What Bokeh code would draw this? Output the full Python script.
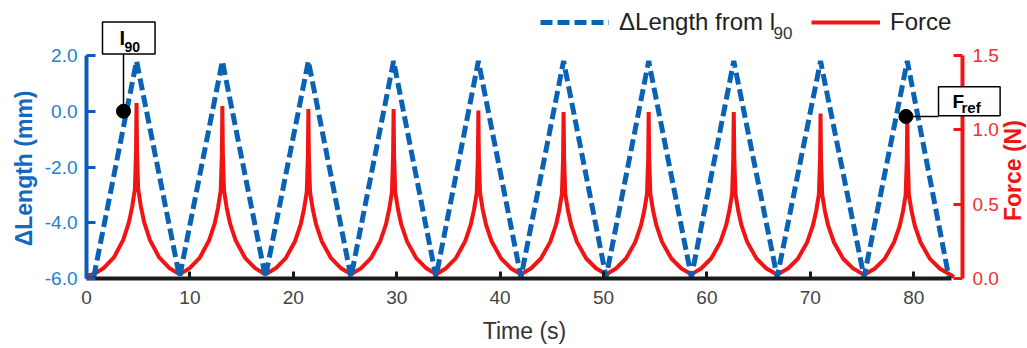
import math
from bokeh.plotting import figure
from bokeh.models import Range1d, LinearAxis, FixedTicker, NumeralTickFormatter, Legend, LegendItem, Label
from bokeh.embed import file_html
from bokeh.resources import INLINE

# ---------------- data ----------------
# Delta length from l90 (mm): triangle wave vertices
length_t = [0.7, 4.84, 9.0, 13.14, 17.3, 21.46, 25.58, 29.70, 33.8, 37.90, 42.02,
            46.14, 50.25, 54.37, 58.5, 62.60, 66.8, 70.99, 75.2, 79.38, 83.4]
length_mm = [-5.95, 1.8, -5.95, 1.8, -5.95, 1.8, -5.95, 1.8, -5.95, 1.8, -5.95,
             1.8, -5.95, 1.8, -5.95, 1.8, -5.95, 1.8, -5.95, 1.8, -5.95]

# Force (N): time of each spike and its peak value
peak_t = [4.84, 13.14, 21.46, 29.70, 37.90, 46.14, 54.37, 62.60, 70.99, 79.38]
peak_force = [1.18, 1.16, 1.14, 1.14, 1.13, 1.12, 1.12, 1.12, 1.11, 1.10]
# shape of one spike: time from the peak (s) and fraction of the peak force
profile_offset = [0.0, 0.05, 0.16, 0.42, 0.74, 1.29, 2.19, 3.16, 4.13]
profile_frac = [1.0, 0.72, 0.51, 0.41, 0.32, 0.22, 0.12, 0.06, 0.025]
force_start = (0.0, 0.02)
force_end = (83.9, 0.01)

x_ticks = [0, 10, 20, 30, 40, 50, 60, 70, 80]
left_ticks = [-6, -4, -2, 0, 2]
right_ticks = [0, 0.5, 1.0, 1.5]

# annotation anchors (data units)
i90_t, i90_mm = 3.58, 0.0
fref_t, fref_force = 79.25, 1.09

# ---------------- build force trace from the spike knots ----------------
force_t = [force_start[0]]
force_v = [force_start[1]]
for tp, fp in zip(peak_t, peak_force):
    for off, fr in zip(reversed(profile_offset[1:]), reversed(profile_frac[1:])):
        t = tp - off
        if t > force_t[-1]:
            force_t.append(t); force_v.append(fp * fr)
    force_t.append(tp); force_v.append(fp)
    for off, fr in zip(profile_offset[1:], profile_frac[1:]):
        force_t.append(tp + off); force_v.append(fp * fr)
force_t.append(force_end[0]); force_v.append(force_end[1])

FONT = "Liberation Sans"
BLUE = "#0a62b4"
BLUE_AX = "#0a5cb8"
BLUE_TXT = "#2080d0"
RED = "#f01414"

# whole canvas is the plot frame; axes are pinned with fixed_location
p = figure(width=1027, height=348, x_range=Range1d(-8.317, 91.006), y_range=Range1d(-8.511, 3.973),
           output_backend="svg", toolbar_location=None,
           min_border_left=0, min_border_right=0, min_border_top=0, min_border_bottom=0)
p.extra_y_ranges = {"force": Range1d(-0.4708, 1.870)}
p.xgrid.visible = False
p.ygrid.visible = False
p.outline_line_color = None
p.background_fill_color = "white"

# x axis
xa = p.xaxis[0]
xa.fixed_location = -6
xa.bounds = (0, 83.7)
xa.ticker = FixedTicker(ticks=x_ticks)
xa.axis_line_color = "#1a1a1a"
xa.axis_line_width = 4
xa.major_tick_line_color = "#1a1a1a"
xa.major_tick_line_width = 3
xa.major_tick_in = 7
xa.major_tick_out = 0
xa.minor_tick_line_color = None
xa.major_label_standoff = 12
xa.major_label_text_font = FONT
xa.major_label_text_font_size = "19px"
xa.major_label_text_color = "#444444"

# left axis
ya = p.yaxis[0]
ya.fixed_location = 0
ya.bounds = (-6, 2)
ya.ticker = FixedTicker(ticks=left_ticks)
ya.formatter = NumeralTickFormatter(format="0.0")
ya.axis_line_color = BLUE_AX
ya.axis_line_width = 4
ya.major_tick_line_color = BLUE_AX
ya.major_tick_line_width = 3
ya.major_tick_in = 9
ya.major_tick_out = 0
ya.minor_tick_line_color = None
ya.major_label_standoff = 9
ya.major_label_text_font = FONT
ya.major_label_text_font_size = "19px"
ya.major_label_text_color = BLUE_TXT

# right axis
ra = LinearAxis(y_range_name="force", fixed_location=84.72)
ra.bounds = (0, 1.5)
ra.ticker = FixedTicker(ticks=right_ticks)
ra.formatter = NumeralTickFormatter(format="0.0")
ra.axis_line_color = RED
ra.axis_line_width = 4
ra.major_tick_line_color = RED
ra.major_tick_line_width = 3
ra.major_tick_in = 9
ra.major_tick_out = 0
ra.minor_tick_line_color = None
ra.major_label_standoff = 10
ra.major_label_text_font = FONT
ra.major_label_text_font_size = "19px"
ra.major_label_text_color = "#f03030"
p.add_layout(ra, "right")

# axis titles
p.add_layout(Label(x=42.36, y=-7.88, text="Time (s)", text_font=FONT, text_font_size="23px",
                   text_align="center", text_baseline="middle", text_color="#333333"))
p.add_layout(Label(x=-6.09, y=-2.05, text="ΔLength (mm)", angle=math.pi / 2, text_font=FONT,
                   text_font_size="23px", text_font_style="bold", text_align="center",
                   text_baseline="middle", text_color="#1468c0"))
p.add_layout(Label(x=89.65, y=-2.13, text="Force (N)", angle=math.pi / 2, text_font=FONT,
                   text_font_size="23px", text_font_style="bold", text_align="center",
                   text_baseline="middle", text_color=RED))

# series
red_r = p.line(force_t, force_v, y_range_name="force", line_color=RED, line_width=4)
blue_r = p.line(length_t, length_mm, line_color=BLUE, line_width=5, line_dash="12 5")

# annotation markers
p.segment(x0=[i90_t], y0=[i90_mm], x1=[i90_t], y1=[2.1], line_color="black", line_width=1.5)
p.scatter([i90_t], [i90_mm], size=14, color="black")
p.segment(x0=[fref_t], y0=[fref_force], x1=[82.4], y1=[fref_force], y_range_name="force",
          line_color="black", line_width=1.5)
p.scatter([fref_t], [fref_force], size=14, color="black", y_range_name="force")

# boxes
p.add_layout(Label(x=1.547, y=2.63, text="I", text_font=FONT, text_font_size="20px",
                   text_font_style="bold", text_align="left", text_baseline="middle",
                   text_color="black", border_line_color="black", border_line_width=1.5,
                   background_fill_color="white", padding=dict(left=17, right=30, top=5, bottom=5)))
p.add_layout(Label(x=3.68, y=2.29, text="90", text_font=FONT, text_font_size="14px",
                   text_font_style="bold", text_align="left", text_baseline="middle", text_color="black"))
p.add_layout(Label(x=82.40, y=0.36, text="F", text_font=FONT, text_font_size="19px",
                   text_font_style="bold", text_align="left", text_baseline="middle",
                   text_color="black", border_line_color="black", border_line_width=1.5,
                   background_fill_color="white", padding=dict(left=14, right=36, top=4, bottom=4)))
p.add_layout(Label(x=84.62, y=0.12, text="ref", text_font=FONT, text_font_size="15px",
                   text_font_style="bold", text_align="left", text_baseline="middle", text_color="black"))

# legend
legend = Legend(items=[LegendItem(label="ΔLength from l", renderers=[blue_r]),
                       LegendItem(label="Force", renderers=[red_r])],
                orientation="horizontal", location=(540, 312), glyph_width=69, glyph_height=20,
                label_standoff=10, spacing=36, padding=0, margin=0,
                border_line_color=None, background_fill_alpha=0,
                label_text_font=FONT, label_text_font_size="24px", label_text_color="#222222")
p.add_layout(legend)
p.add_layout(Label(x=66.44, y=2.79, text="90", text_font=FONT, text_font_size="17px",
                   text_align="left", text_baseline="middle", text_color="#333333"))

open("out.html", "w").write(file_html(p, INLINE))
